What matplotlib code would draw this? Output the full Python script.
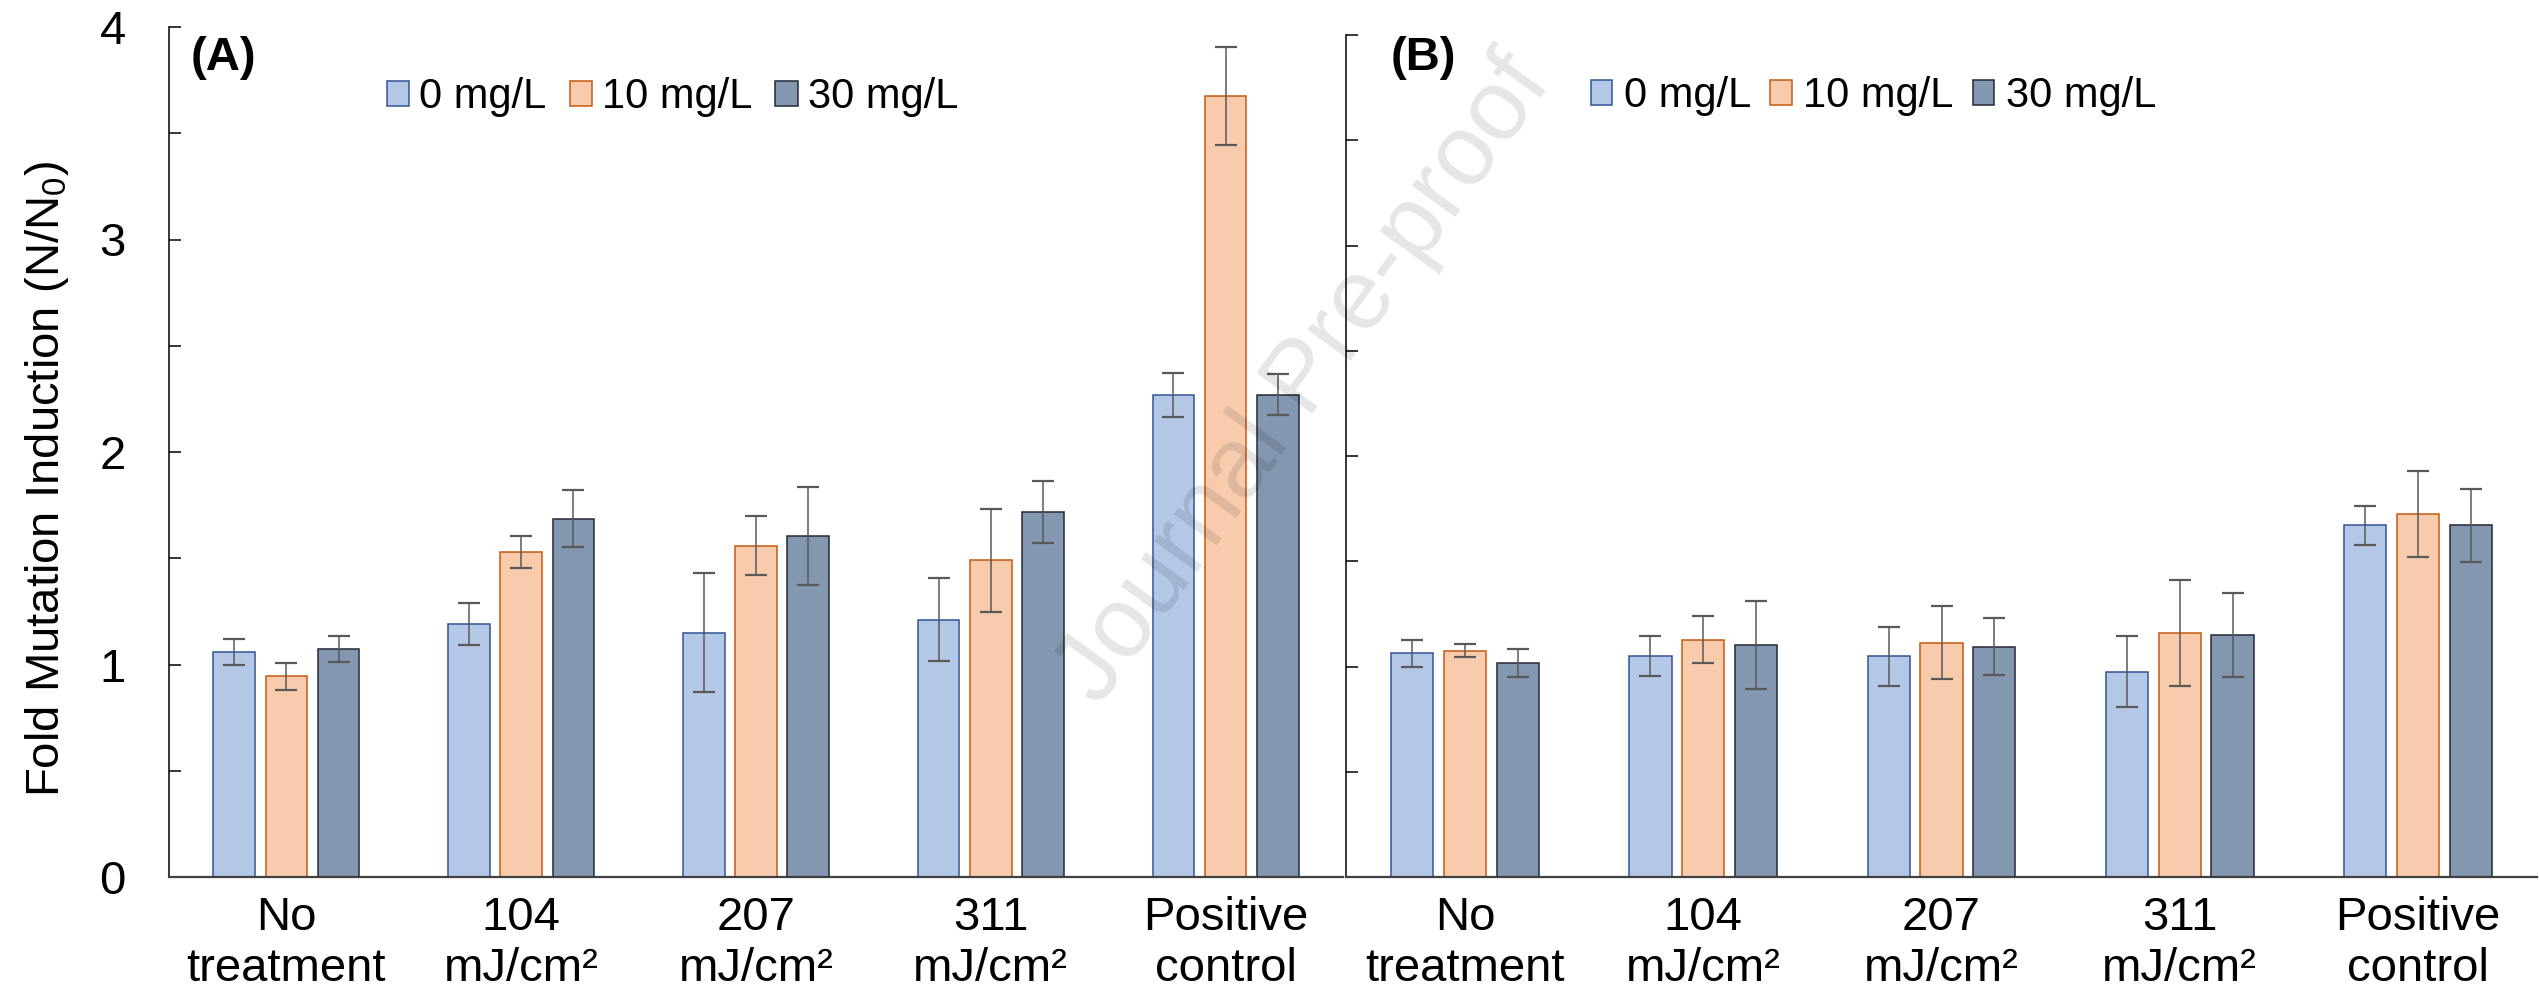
import numpy as np
import matplotlib
matplotlib.use("Agg")
import matplotlib.pyplot as plt
from matplotlib.ticker import MultipleLocator

plt.rcParams['font.family'] = ['Liberation Sans', 'DejaVu Sans']
plt.rcParams['mathtext.fontset'] = 'custom'
plt.rcParams['mathtext.rm'] = 'Liberation Sans'
plt.rcParams['mathtext.it'] = 'Liberation Sans:italic'

categories = ["No\ntreatment", "104\nmJ/cm²", "207\nmJ/cm²", "311\nmJ/cm²", "Positive\ncontrol"]
series_labels = ["0 mg/L", "10 mg/L", "30 mg/L"]

# Panel A
a_0mg = [1.06, 1.19, 1.15, 1.21, 2.27]
a_0mg_err = [0.06, 0.10, 0.28, 0.195, 0.104]
a_10mg = [0.945, 1.53, 1.56, 1.49, 3.675]
a_10mg_err = [0.063, 0.077, 0.138, 0.244, 0.232]
a_30mg = [1.073, 1.687, 1.604, 1.719, 2.27]
a_30mg_err = [0.063, 0.134, 0.232, 0.145, 0.096]

# Panel B
b_0mg = [1.062, 1.048, 1.048, 0.975, 1.670]
b_0mg_err = [0.066, 0.095, 0.142, 0.168, 0.093]
b_10mg = [1.075, 1.128, 1.113, 1.160, 1.726]
b_10mg_err = [0.032, 0.112, 0.173, 0.252, 0.204]
b_30mg = [1.018, 1.104, 1.094, 1.150, 1.670]
b_30mg_err = [0.066, 0.209, 0.136, 0.200, 0.173]

fills = ['#B4C7E7', '#F8CBAD', '#8497B0']
edges = ['#2F5597', '#C55A11', '#222A35']
err_color = '#595959'

W, H = 2539, 1002
fig = plt.figure(figsize=(W / 100, H / 100), dpi=100)

axA = fig.add_axes([169 / W, 1 - 877 / H, 1174 / W, 850 / H])
axB = fig.add_axes([1346 / W, 1 - 877 / H, 1191 / W, 842 / H])

x = np.arange(len(categories))
width = 0.177
step = 0.222


def draw(ax, vals, errs):
    for i, (v, e) in enumerate(zip(vals, errs)):
        ax.bar(x + (i - 1) * step, v, width, color=fills[i], edgecolor=edges[i],
               linewidth=1.1, label=series_labels[i], zorder=2)
        ax.errorbar(x + (i - 1) * step, v, yerr=e, fmt='none', ecolor=err_color,
                    elinewidth=1.1, capsize=8, capthick=1.6, zorder=3)
    ax.set_xlim(-0.5, 4.5)
    ax.set_ylim(0, 4)
    ax.set_xticks(x)
    ax.set_xticklabels(categories, fontsize=34, linespacing=1.2)
    ax.tick_params(axis='x', length=0, pad=14)
    ax.yaxis.set_major_locator(MultipleLocator(1))
    ax.yaxis.set_minor_locator(MultipleLocator(0.5))
    ax.tick_params(axis='y', which='both', direction='in', length=8.5, width=1.1,
                   color='black', labelsize=34, pad=31)
    for s in ['top', 'right']:
        ax.spines[s].set_visible(False)
    ax.spines['left'].set_linewidth(1.1)
    ax.spines['left'].set_color('black')
    ax.spines['bottom'].set_linewidth(1.6)
    ax.spines['bottom'].set_color('#404040')


draw(axA, [a_0mg, a_10mg, a_30mg], [a_0mg_err, a_10mg_err, a_30mg_err])
draw(axB, [b_0mg, b_10mg, b_30mg], [b_0mg_err, b_10mg_err, b_30mg_err])
axB.tick_params(axis='y', which='both', labelleft=False)

legA = axA.legend(loc='center left', bbox_to_anchor=(387 / W, 1 - 97 / H),
                  bbox_transform=fig.transFigure, ncol=3, frameon=False,
                  fontsize=30, handlelength=0.53, handleheight=0.53,
                  handletextpad=0.24, columnspacing=0.56, borderpad=0, borderaxespad=0)
legB = axB.legend(loc='center left', bbox_to_anchor=(1591 / W, 1 - 96 / H),
                  bbox_transform=fig.transFigure, ncol=3, frameon=False,
                  fontsize=30, handlelength=0.51, handleheight=0.53,
                  handletextpad=0.28, columnspacing=0.46, borderpad=0, borderaxespad=0)

fig.text(191 / W, 1 - 36 / H, "(A)", fontsize=34, fontweight='bold', ha='left', va='top')
fig.text(1391 / W, 1 - 36 / H, "(B)", fontsize=34, fontweight='bold', ha='left', va='top')

fig.text(47 / W, 1 - 478.5 / H, r"Fold Mutation Induction (N/N$_\mathregular{0}$)",
         rotation=90, ha='center', va='center', fontsize=34)

fig.text(1305 / W, 1 - 380 / H, "Journal Pre-proof", rotation=54, ha='center', va='center',
         rotation_mode='anchor', fontsize=72, color='black', alpha=0.1, zorder=10)

fig.savefig("out.png", dpi=100)
